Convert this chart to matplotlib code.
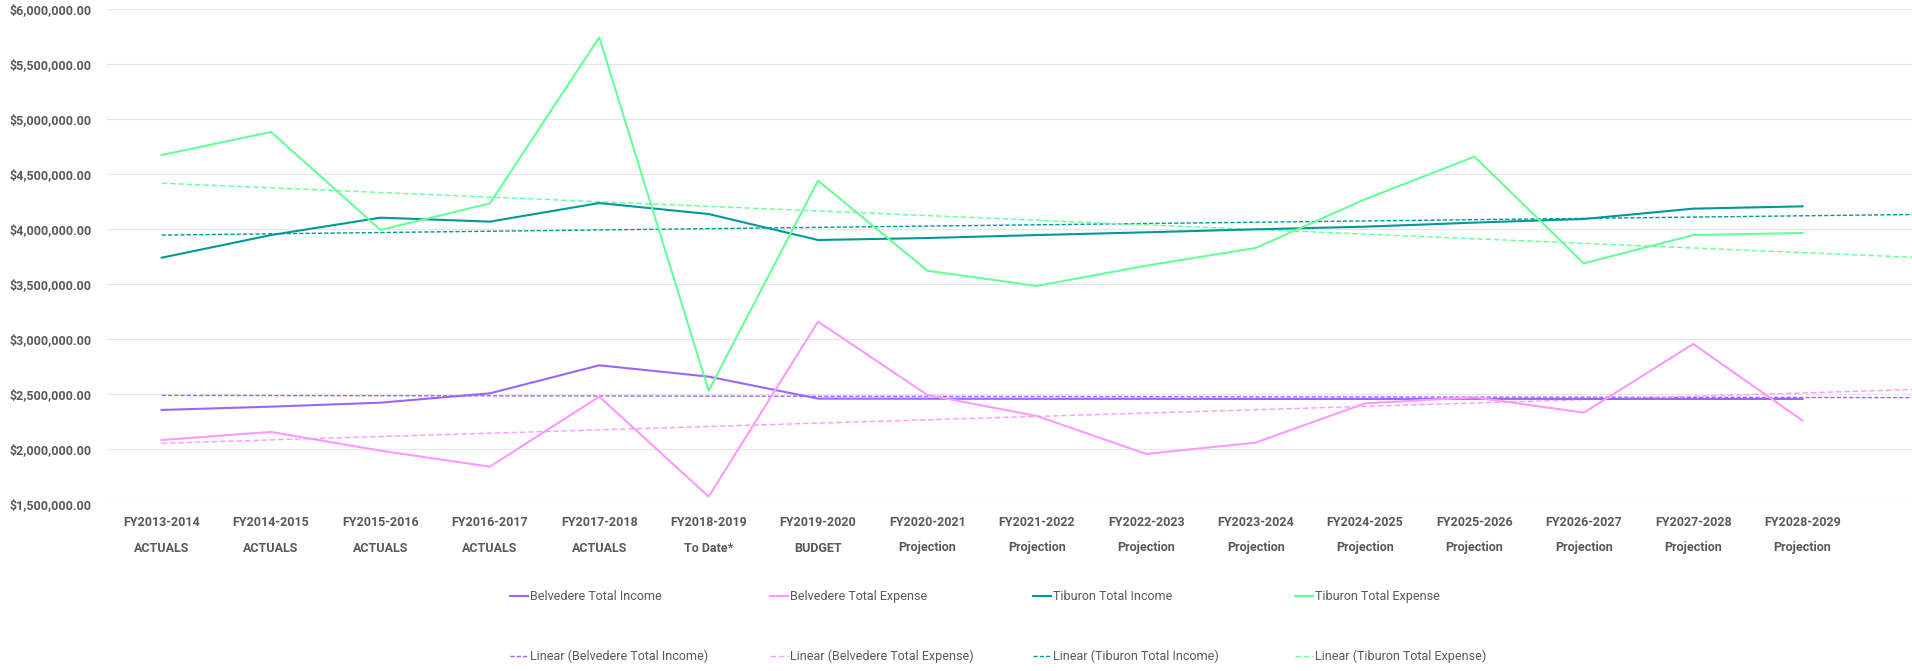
import numpy as np
import matplotlib
matplotlib.use("Agg")
import matplotlib.pyplot as plt
from matplotlib.ticker import FuncFormatter

# 회계연도 / 구분
years = ["FY2013-2014", "FY2014-2015", "FY2015-2016", "FY2016-2017", "FY2017-2018",
         "FY2018-2019", "FY2019-2020", "FY2020-2021", "FY2021-2022", "FY2022-2023",
         "FY2023-2024", "FY2024-2025", "FY2025-2026", "FY2026-2027", "FY2027-2028",
         "FY2028-2029"]
kinds = ["ACTUALS", "ACTUALS", "ACTUALS", "ACTUALS", "ACTUALS", "To Date*", "BUDGET",
         "Projection", "Projection", "Projection", "Projection", "Projection",
         "Projection", "Projection", "Projection", "Projection"]

belvedere_income = [2355000, 2385000, 2421000, 2506000, 2761000, 2658000, 2458000,
                    2457000, 2456000, 2456000, 2455000, 2455000, 2456000, 2455000,
                    2455000, 2455000]
belvedere_expense = [2082000, 2155000, 1985000, 1839000, 2476000, 1567000, 3158000,
                     2491000, 2300000, 1955000, 2058000, 2415000, 2470000, 2330000,
                     2955000, 2258000]
tiburon_income = [3739000, 3945000, 4103000, 4067000, 4236000, 4136000, 3900000,
                  3918000, 3945000, 3970000, 3997000, 4021000, 4058000, 4091000,
                  4185000, 4206000]
tiburon_expense = [4673000, 4882000, 3991000, 4233000, 5742000, 2530000, 4439000,
                   3621000, 3482000, 3667000, 3827000, 4270000, 4658000, 3688000,
                   3945000, 3964000]

series = [
    ("Belvedere Total Income", belvedere_income, "#9966FF"),
    ("Belvedere Total Expense", belvedere_expense, "#FF99FF"),
    ("Tiburon Total Income", tiburon_income, "#009999"),
    ("Tiburon Total Expense", tiburon_expense, "#66FF99"),
]

plt.rcParams['font.family'] = ['Roboto', 'DejaVu Sans']

fig = plt.figure(figsize=(19.12, 6.71), dpi=100)
ax = fig.add_axes([107 / 1912, 167 / 671, 1805 / 1912, 495 / 671])

x = np.arange(len(years))
x_trend = np.array([0, 16.0])
handles = []
for name, values, color in series:
    line, = ax.plot(x, values, color=color, linewidth=1.5, label=name, zorder=3)
    # 선형 추세선
    k, b = np.polyfit(x, values, 1)
    dash = (0, (3, 1.5)) if "Income" in name else (0, (4, 2))
    trend, = ax.plot(x_trend, k * x_trend + b, color=color, linewidth=1.0,
                     linestyle=dash, label="Linear (" + name + ")", zorder=2)
    handles.append((line, trend))

ax.set_xlim(-0.5, 16.0)
ax.set_ylim(1500000, 6000000)
ax.set_yticks(np.arange(1500000, 6000001, 500000))
ax.yaxis.set_major_formatter(FuncFormatter(lambda v, p: "${:,.2f}".format(v)))
ax.set_xticks(x)
ax.set_xticklabels([a + "\n" + b for a, b in zip(years, kinds)], linespacing=2.2)
ax.grid(axis="y", color="#E6E6E6", linewidth=0.8)
ax.set_axisbelow(True)
for s in ax.spines.values():
    s.set_visible(False)
ax.tick_params(axis="both", length=0, colors="#595959", labelsize=9)
ax.tick_params(axis="x", pad=9)
ax.tick_params(axis="y", pad=11)
for lab in ax.get_xticklabels() + ax.get_yticklabels():
    lab.set_fontweight("bold")

# 범례: 열마다 따로 배치
col_x = [510, 770, 1033, 1295]
for (line, trend), cx in zip(handles, col_x):
    leg = fig.legend(handles=[line, trend], loc="upper left",
                     bbox_to_anchor=(cx / 1912, 1 - 590 / 671), frameon=False,
                     fontsize=9, handlelength=1.4, handletextpad=0.2,
                     labelspacing=3.75, borderpad=0, borderaxespad=0)
    for t in leg.get_texts():
        t.set_color("#595959")

fig.savefig("out.png", dpi=100)
